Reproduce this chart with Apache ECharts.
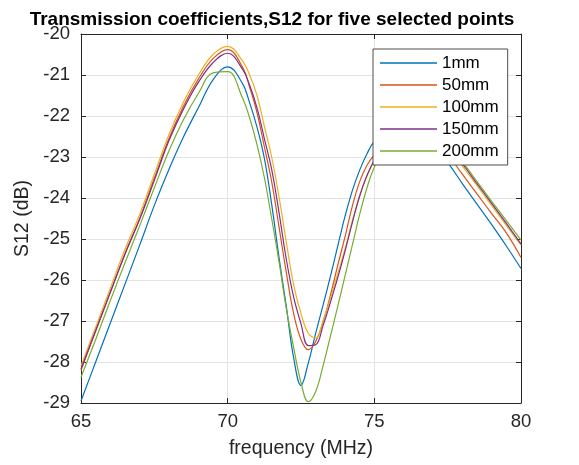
<!DOCTYPE html>
<html><head><meta charset="utf-8">
<script src="https://cdn.jsdelivr.net/npm/echarts@6/dist/echarts.min.js"></script>
<style>html,body{margin:0;padding:0;background:#fff}#c{width:579px;height:465px}</style>
</head><body><div id="c"></div>
<script>
const freq = [65,65.5,66,66.5,67,67.5,68,68.5,69,69.5,70,70.5,70.75,71,71.25,71.5,71.75,72,72.25,72.5,72.75,73,73.25,73.5,73.75,74,74.25,74.5,74.75,75,75.5,76,76.5,77,77.5,78,78.5,79,79.5,80];
const s1mm   = [-28.95,-28.0,-27.05,-26.1,-25.15,-24.18,-23.3,-22.5,-21.8,-21.12,-20.8,-21.2,-21.68,-22.27,-23.03,-24.15,-25.45,-26.65,-27.9,-28.57,-28.02,-27.3,-26.62,-25.92,-25.18,-24.45,-23.82,-23.32,-22.92,-22.62,-22.32,-22.25,-22.4,-22.7,-23.13,-23.65,-24.15,-24.65,-25.17,-25.72];
const s50mm  = [-28.2,-27.25,-26.3,-25.35,-24.5,-23.52,-22.55,-21.75,-21.1,-20.6,-20.38,-20.8,-21.3,-21.92,-22.75,-23.6,-24.7,-25.82,-26.82,-27.45,-27.7,-27.5,-27.03,-26.38,-25.65,-24.95,-24.2,-23.6,-23.2,-22.95,-22.55,-22.4,-22.45,-22.65,-22.95,-23.42,-23.9,-24.38,-24.85,-25.45];
const s100mm = [-28.1,-27.15,-26.2,-25.25,-24.4,-23.42,-22.45,-21.65,-21.0,-20.5,-20.3,-20.65,-21.0,-21.5,-22.25,-23.0,-23.97,-25.08,-26.12,-26.82,-27.3,-27.42,-27.0,-26.45,-25.85,-25.25,-24.55,-23.95,-23.45,-23.1,-22.55,-22.35,-22.35,-22.5,-22.8,-23.22,-23.7,-24.18,-24.67,-25.15];
const s150mm = [-28.17,-27.23,-26.3,-25.37,-24.52,-23.57,-22.6,-21.82,-21.18,-20.7,-20.47,-20.85,-21.25,-21.8,-22.55,-23.3,-24.35,-25.5,-26.42,-27.07,-27.6,-27.58,-27.12,-26.55,-25.95,-25.3,-24.6,-23.95,-23.45,-23.08,-22.55,-22.35,-22.35,-22.55,-22.82,-23.17,-23.65,-24.13,-24.62,-25.12];
const s200mm = [-28.37,-27.45,-26.5,-25.58,-24.68,-23.75,-22.85,-22.08,-21.45,-20.95,-20.92,-21.55,-22.05,-22.7,-23.5,-24.5,-25.55,-26.7,-27.65,-28.5,-28.97,-28.72,-28.1,-27.38,-26.65,-25.9,-25.15,-24.4,-23.75,-23.25,-22.6,-22.35,-22.3,-22.45,-22.75,-23.12,-23.6,-24.08,-24.55,-25.03];
const seriesNames = ['1mm','50mm','100mm','150mm','200mm'];
const seriesValues = [s1mm, s50mm, s100mm, s150mm, s200mm];
const colors = ['#0072BD','#D95319','#EDB120','#7E2F8E','#77AC30'];
const xTicks = {min: 65, max: 80, interval: 5};
const yTicks = {min: -29, max: -20, interval: 1};

const FONT = 'Liberation Sans, Arial, sans-serif';
const TXT = '#262626';
const chart = echarts.init(document.getElementById('c'), null, {renderer: 'canvas'});
const mirrorAxis = {
  show: true, axisLine: {show: true, lineStyle: {color: TXT, width: 1}},
  axisTick: {show: true, inside: true, length: 5, lineStyle: {color: TXT}},
  axisLabel: {show: false}, splitLine: {show: false}
};
chart.setOption({
  animation: false,
  backgroundColor: '#fff',
  title: {
    text: 'Transmission coefficients,S12 for five selected points',
    left: 267, top: 5, textAlign: 'center',
    textStyle: {fontFamily: FONT, fontWeight: 'bold', fontSize: 19, color: '#000'}
  },
  color: colors,
  grid: {left: 81, right: 58, top: 34, bottom: 62},
  legend: {
    orient: 'vertical', left: 373, top: 49, z: 20,
    padding: [3, 9, 3, 7], itemGap: 0, itemWidth: 57, itemHeight: 1.5,
    icon: 'rect',
    backgroundColor: '#fff', borderColor: '#4d4d4d', borderWidth: 1,
    textStyle: {fontFamily: FONT, fontSize: 17, color: '#000', lineHeight: 22},
    data: seriesNames
  },
  xAxis: [{
    type: 'value', min: xTicks.min, max: xTicks.max, interval: xTicks.interval,
    name: 'frequency (MHz)', nameLocation: 'middle', nameGap: 36,
    nameTextStyle: {fontFamily: FONT, fontSize: 19.5, color: TXT},
    axisLine: {lineStyle: {color: TXT, width: 1}},
    axisTick: {inside: true, length: 5, lineStyle: {color: TXT}},
    axisLabel: {fontFamily: FONT, fontSize: 18.5, color: TXT, margin: 9},
    splitLine: {show: true, lineStyle: {color: '#e3e3e3', width: 1}}
  }, Object.assign({type: 'value', position: 'top', min: xTicks.min, max: xTicks.max, interval: xTicks.interval}, mirrorAxis)],
  yAxis: [{
    type: 'value', min: yTicks.min, max: yTicks.max, interval: yTicks.interval,
    name: 'S12 (dB)', nameLocation: 'middle', nameGap: 46, nameRotate: 90,
    nameTextStyle: {fontFamily: FONT, fontSize: 19.5, color: TXT},
    axisLine: {show: true, lineStyle: {color: TXT, width: 1}},
    axisTick: {show: true, inside: true, length: 5, lineStyle: {color: TXT}},
    axisLabel: {fontFamily: FONT, fontSize: 18.5, color: TXT, margin: 11},
    splitLine: {show: true, lineStyle: {color: '#e3e3e3', width: 1}}
  }, Object.assign({type: 'value', position: 'right', min: yTicks.min, max: yTicks.max, interval: yTicks.interval}, mirrorAxis)],
  series: seriesNames.map((n, i) => ({
    name: n, type: 'line', symbol: 'none', smooth: 0.4,
    lineStyle: {width: 1.2, color: colors[i]},
    data: freq.map((f, k) => [f, seriesValues[i][k]]),
    z: 2, zlevel: 0
  }))
});
</script></body></html>
